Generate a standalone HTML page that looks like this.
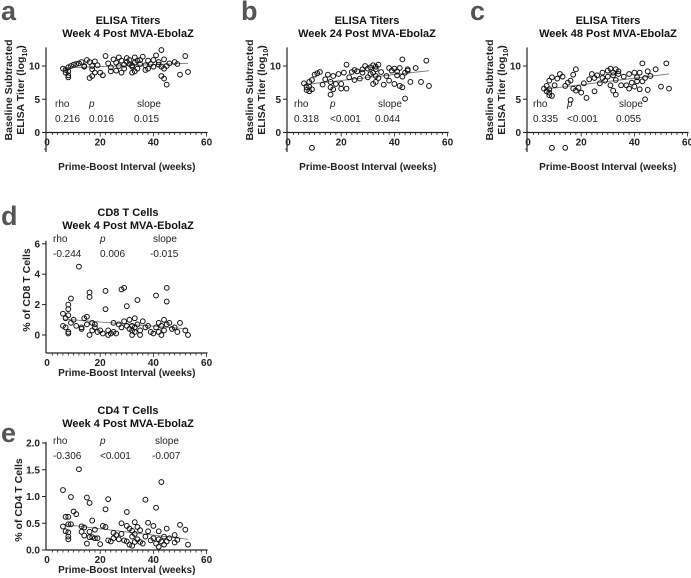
<!DOCTYPE html>
<html><head><meta charset="utf-8"><style>
html,body{margin:0;padding:0;background:#fff}
svg{display:block;font-family:"Liberation Sans",Arial,sans-serif}
</style></head><body>
<svg id="fig" width="691" height="578" viewBox="0 0 691 578"></svg>
<script>
// ---- data ----
const aX=[6,7,7,8,8,8,8,9,10,11,12,13,14,14,15,16,16,17,17,17,18,18,19,20,21,22,23,24,24,25,26,26,27,27,28,28,29,29,30,30,31,31,32,32,32,33,33,33,34,34,35,35,36,37,37,38,38,39,40,40,41,42,42,43,43,43,44,44,44,45,45,46,48,49,50,52,53];
const aY=[9.6,9.4,9.0,9.8,9.2,8.6,8.3,10.0,10.2,10.3,10.4,10.6,10.0,9.9,10.9,10.6,8.2,10.0,9.5,8.5,9.0,10.7,10.1,9.0,8.6,11.5,10.4,9.8,9.2,11.0,10.5,9.3,11.3,10.0,10.8,9.0,10.2,9.6,11.2,10.6,10.9,10.3,10.1,9.0,9.9,11.3,10.5,9.2,10.8,9.6,10.3,10.9,11.4,10.1,9.4,10.8,9.6,10.3,10.9,9.9,11.6,10.6,10.2,12.4,9.9,8.5,11.0,8.1,9.6,10.0,7.2,10.4,10.6,10.3,8.7,11.5,9.1];
const aFit=[9.7,10.4];
const bX=[6,7,7,8,8,8,9,9,10,11,12,13,14,15,16,16,16,17,17,18,19,20,20,21,22,22,23,24,25,25,26,27,28,28,29,30,30,31,31,32,32,32,33,33,33,33,34,34,35,36,37,38,38,39,40,40,41,41,42,42,43,43,43,44,44,45,45,46,48,50,52,53,9];
const bY=[7.4,6.8,6.4,7.6,6.9,6.2,7.9,6.5,8.7,8.9,9.1,7.2,8.0,8.7,7.6,5.7,6.8,8.5,6.5,7.3,8.8,7.3,6.6,9.0,10.2,6.6,8.3,9.1,7.9,9.4,9.2,8.1,9.5,9.0,10.0,9.6,8.3,9.8,8.8,10.1,7.3,9.0,9.5,8.5,7.6,9.9,10.2,8.2,9.1,7.2,8.5,9.7,7.8,9.3,9.6,7.3,9.2,8.6,9.7,7.0,11.0,8.4,6.8,5.1,9.0,9.3,9.5,7.6,9.7,7.6,10.8,7.0,-2.3];
const bFit=[7.2,9.3];
const cX=[6,7,7,8,8,8,8,9,9,10,11,12,13,14,15,16,16,17,17,18,18,19,20,21,22,23,24,25,25,26,27,28,28,29,30,30,31,31,32,32,32,33,33,33,34,34,35,36,37,38,38,39,40,40,41,41,42,42,43,43,44,44,45,45,46,48,50,52,53,9,14];
const cY=[6.6,6.2,7.0,7.8,6.0,5.6,6.5,8.3,5.5,7.1,8.1,8.8,8.4,7.0,7.5,7.8,4.9,6.6,8.7,6.3,9.5,6.7,6.0,7.4,5.2,8.0,8.8,8.2,6.2,8.6,7.4,9.0,8.2,7.8,9.3,8.4,9.6,7.1,8.6,9.0,6.3,9.5,7.9,5.7,8.8,9.2,7.1,8.4,7.1,8.8,6.6,7.5,9.0,6.9,8.3,7.7,9.0,6.5,10.4,7.7,8.2,5.0,9.2,6.4,8.5,9.5,6.9,10.4,6.6,-2.3,-2.3];
const cFit=[6.5,8.8];
const dX=[6,6,7,7,8,8,8,8,8,9,9,10,11,12,13,13,14,15,15,16,16,16,17,17,18,18,19,20,21,22,22,23,23,24,25,25,26,27,28,28,29,29,30,30,31,31,32,32,32,33,33,33,34,34,35,35,36,37,38,39,40,41,41,42,42,43,43,44,44,45,45,45,46,47,48,49,50,52,53];
const dY=[1.4,0.6,1.1,0.5,2.0,1.7,1.3,0.2,0.1,2.4,0.8,1.0,0.6,4.5,0.5,0.4,1.1,1.2,0.7,2.8,2.5,0.0,0.8,0.3,0.7,0.5,0.2,0.3,0.1,2.9,1.7,0.3,0.0,0.1,0.8,0.2,0.1,0.7,3.0,0.5,3.1,0.9,1.9,0.6,0.4,1.0,0.3,0.0,0.6,1.1,0.5,0.2,2.3,0.7,0.3,0.0,0.9,0.5,0.6,0.2,0.1,2.6,0.5,0.8,0.2,0.6,0.0,1.0,0.3,3.1,2.2,0.7,0.8,0.4,0.5,0.2,0.8,0.3,0.0];
const dFit=[1.05,0.4];
const eX=[6,6,7,7,8,8,8,8,8,9,9,10,11,12,13,13,14,14,15,15,16,16,16,17,17,18,18,19,20,21,22,22,23,23,24,25,25,26,27,28,28,29,30,30,30,31,31,32,32,32,33,33,33,34,34,35,35,36,37,37,38,38,39,40,40,41,41,42,42,42,43,43,44,44,45,45,46,48,48,49,50,52,53];
const eY=[1.12,0.44,0.62,0.35,0.62,0.33,0.25,0.2,0.48,0.99,0.48,0.72,0.67,1.51,0.34,0.44,0.42,0.27,0.98,0.12,0.88,0.24,0.34,0.55,0.24,0.38,0.22,0.22,0.11,0.45,0.76,0.43,0.95,0.18,0.16,0.32,0.22,0.28,0.2,0.5,0.3,0.18,0.71,0.45,0.16,0.4,0.1,0.36,0.25,0.08,0.52,0.3,0.15,0.43,0.2,0.37,0.15,0.12,0.94,0.25,0.51,0.35,0.18,0.45,0.22,0.79,0.12,0.35,0.2,0.06,1.27,0.16,0.25,0.1,0.4,0.16,0.22,0.28,0.14,0.19,0.47,0.38,0.1];
const eFit=[0.48,0.2];
const xTicks=[0,20,40,60];
const yTicksAB=[0,5,10];
const yTicksD=[0,2,4,6];
const yTicksE=[0,0.5,1.0,1.5,2.0];

const NS='http://www.w3.org/2000/svg';
const svg=document.getElementById('fig');
function mk(tag,attrs,parent,txt){const e=document.createElementNS(NS,tag);for(const k in attrs)e.setAttribute(k,attrs[k]);if(txt!==undefined)e.textContent=txt;(parent||svg).appendChild(e);return e;}

function panel(p){
  const g=mk('g',{});
  
  
  const sx=v=>p.x0+v*p.kx;
  const sy=v=>p.y0-v*p.ky;
  const L=mk('text',{x:p.lx,y:p.ly,'font-size':27,'font-weight':'bold',fill:'#555'},g,p.letter);
  
  
  const t1=mk('text',{x:p.tcx,y:p.ty,'font-size':11,'font-weight':'bold','text-anchor':'middle',fill:'#111'},g,p.title1);
  
  
  const t2=mk('text',{x:p.tcx,y:p.ty+13,'font-size':11,'font-weight':'bold','text-anchor':'middle',fill:'#111'},g,p.title2);
  
  
  const yTop=sy(p.ymax), yBot=p.axisY;
  const ya=mk('line',{x1:p.x0-1,x2:p.x0-1,y1:yTop,y2:yBot,stroke:'#222','stroke-width':1.2},g);
  
  
  const xa=mk('line',{x1:p.x0-1,x2:sx(60)+1,y1:p.axisY,y2:p.axisY,stroke:'#222','stroke-width':1.2},g);
  
  
  for(let v=2;v<=60;v+=2){const big=v%20===0;mk('line',{x1:sx(v),x2:sx(v),y1:p.axisY,y2:p.axisY+(big?4:2.5),stroke:'#222','stroke-width':0.8},g);}
  xTicks.forEach(v=>{
    const t=mk('text',{x:sx(v),y:p.axisY+13,'font-size':10,'font-weight':'bold','text-anchor':'middle',fill:'#222'},g,String(v));
    
    
  });
  p.yticks.forEach(v=>{
    mk('line',{x1:p.x0-5,x2:p.x0-1,y1:sy(v),y2:sy(v),stroke:'#222','stroke-width':1},g);
    const t=mk('text',{x:p.x0-7,y:sy(v)+3.5,'font-size':10,'font-weight':'bold','text-anchor':'end',fill:'#222'},g,p.fmt(v));
    
    
  });
  if(p.minorY) p.minorY.forEach(v=>mk('line',{x1:p.x0-3,x2:p.x0-1,y1:sy(v),y2:sy(v),stroke:'#222','stroke-width':0.8},g));
  const xt=mk('text',{x:sx(30),y:p.xtY,'font-size':10,'font-weight':'bold','text-anchor':'middle',fill:'#222'},g,'Prime-Boost Interval (weeks)');
  
  
  p.ytitle.forEach((line,i)=>{
    const xx=p.ytx[i];
    const t=mk('text',{x:0,y:0,'font-size':10.5,'font-weight':'bold','text-anchor':'middle',fill:'#222',transform:`translate(${xx},${p.ytCy}) rotate(-90)`},g);
    t.innerHTML=line;
    
    
  });
  const labels=['rho','p','slope'];
  labels.forEach((s,i)=>{
    const a=mk('text',{x:p.sx[i],y:p.sy,'font-size':10,fill:'#222','font-style':i===1?'italic':'normal'},g,s);
    
    
    const b=mk('text',{x:p.sx[i]-(i===2?3:0),y:p.sy+15,'font-size':10,fill:'#222'},g,p.stats[i]);
    
    
  });
  const fl=mk('line',{x1:sx(6),x2:sx(53),y1:sy(p.fit[0]),y2:sy(p.fit[1]),stroke:'#777','stroke-width':0.9},g);
  
  
  p.xs.forEach((xv,i)=>{
    const c=mk('circle',{cx:sx(xv),cy:sy(p.ys[i]),r:2.4,fill:'none',stroke:'#111','stroke-width':1},g);
    
    
  });
}
const elisaTitle=['Baseline Subtracted','ELISA Titer (log<tspan font-size="7" dy="3">10</tspan><tspan dy="-3">)</tspan>'];
const base={kx:2.66,ky:6.65,y0:132.5,ymax:12.8,axisY:132.5,yticks:yTicksAB,fmt:v=>String(v),minorY:[-2.5],ytitle:elisaTitle,ytCy:90,xtY:170,sy:107,ty:24};
panel(Object.assign({},base,{letter:'a',x0:47,ytx:[12,24],lx:1,ly:20,tcx:128,title1:'ELISA Titers',title2:'Week 4 Post MVA-EbolaZ',sx:[55,89,137],stats:['0.216','0.016','0.015'],xs:aX,ys:aY,fit:aFit}));
panel(Object.assign({},base,{letter:'b',x0:288,ytx:[253,265],lx:241,ly:20,tcx:367,title1:'ELISA Titers',title2:'Week 24 Post MVA-EbolaZ',sx:[294,330,378],stats:['0.318','<0.001','0.044'],xs:bX,ys:bY,fit:bFit}));
panel(Object.assign({},base,{letter:'c',x0:528,ytx:[493,505],lx:470,ly:20,tcx:608,title1:'ELISA Titers',title2:'Week 48 Post MVA-EbolaZ',sx:[533,567,619],stats:['0.335','<0.001','0.055'],xs:cX,ys:cY,fit:cFit}));
[47,288,528].forEach(x=>{const l=mk('line',{x1:x-1,x2:x-1,y1:132,y2:152,stroke:'#222','stroke-width':1.2});});
panel({letter:'d',x0:47,ytx:[30],kx:2.66,ky:15.2,y0:335,ymax:6.2,axisY:353,yticks:yTicksD,fmt:v=>String(v),ytitle:['% of CD8 T Cells'],ytCy:290,xtY:376,sx:[53,100,153],sy:242,stats:['-0.244','0.006','-0.015'],ty:216,tcx:128,title1:'CD8 T Cells',title2:'Week 4 Post MVA-EbolaZ',lx:1,ly:225,xs:dX,ys:dY,fit:dFit});
panel({letter:'e',x0:47,ytx:[22],kx:2.66,ky:53.5,y0:550,ymax:2.02,axisY:550,yticks:yTicksE,fmt:v=>v.toFixed(1),ytitle:['% of CD4 T Cells'],ytCy:500,xtY:573,sx:[53,100,155],sy:444,stats:['-0.306','<0.001','-0.007'],ty:414,tcx:128,title1:'CD4 T Cells',title2:'Week 4 Post MVA-EbolaZ',lx:1,ly:442,xs:eX,ys:eY,fit:eFit});
</script>
</body></html>
